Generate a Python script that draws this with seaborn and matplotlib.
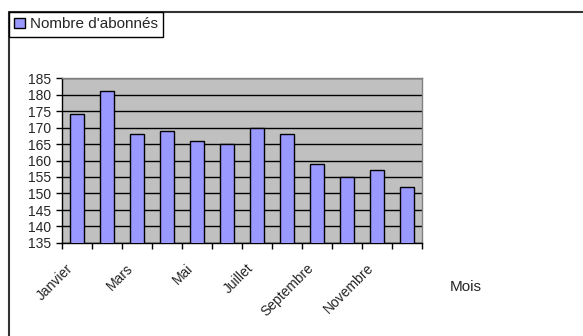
import matplotlib
matplotlib.use("Agg")
import matplotlib.pyplot as plt
import seaborn as sns
import pandas as pd
import numpy as np
from matplotlib.lines import Line2D
from matplotlib.patches import Patch

mois = ["Janvier", "Février", "Mars", "Avril", "Mai", "Juin", "Juillet",
        "Août", "Septembre", "Octobre", "Novembre", "Décembre"]
abonnes = [174, 181, 168, 169, 166, 165, 170, 168, 159, 155, 157, 152]
y_ticks = list(range(135, 186, 5))

sns.set_theme(style="white")
plt.rcParams['font.family'] = ['Liberation Sans', 'DejaVu Sans']

W, H = 583, 336
fig = plt.figure(figsize=(W / 100, H / 100), dpi=100)
ax = fig.add_axes([62 / W, 1 - 243 / H, 360 / W, 165 / H])

df = pd.DataFrame({"Mois": mois, "Abonnés": abonnes})
sns.barplot(data=df, x="Mois", y="Abonnés", color="#9999FF", saturation=1,
            width=0.45, edgecolor="black", linewidth=1, ax=ax, zorder=3)

ax.set_facecolor("#C0C0C0")
ax.set_ylim(135, 185)
ax.set_xlim(-0.5, 11.5)
ax.set_yticks(y_ticks)
ax.set_yticklabels([str(v) for v in y_ticks], fontsize=10)
ax.yaxis.grid(True, color="black", linewidth=1)
ax.set_axisbelow(True)
ax.set_xlabel("")
ax.set_ylabel("")

# ticks on category boundaries, slanted labels on every other category
ax.set_xticks(np.arange(-0.5, 12, 1))
ax.set_xticklabels([])
label_pos = np.arange(0, 12, 2) - 0.36
ax.set_xticks(label_pos, minor=True)
ax.set_xticklabels(mois[::2], minor=True, rotation=45, ha="right",
                   rotation_mode="anchor", fontsize=10)
ax.tick_params(axis="x", which="major", direction="out", length=4,
               width=1, color="black", bottom=True)
ax.tick_params(axis="x", which="minor", length=0, pad=13, bottom=True)
ax.tick_params(axis="y", direction="out", length=4, width=1,
               color="black", left=True, pad=4)

for s in ("left", "bottom"):
    ax.spines[s].set_color("black")
    ax.spines[s].set_linewidth(1)
for s in ("top", "right"):
    ax.spines[s].set_color("#808080")
    ax.spines[s].set_linewidth(1)

leg = fig.legend(handles=[Patch(facecolor="#9999FF", edgecolor="black",
                                label="Nombre d'abonnés")],
                 loc="upper left", bbox_to_anchor=(9 / W, 1 - 12 / H),
                 borderaxespad=0, frameon=True, fancybox=False,
                 edgecolor="black", framealpha=1, fontsize=11,
                 handlelength=0.7, handleheight=0.7, handletextpad=0.3,
                 borderpad=0.35)
leg.get_frame().set_linewidth(1)

# outer chart frame (top and left edges)
fig.add_artist(Line2D([9 / W, 1], [1 - 12 / H, 1 - 12 / H],
                      transform=fig.transFigure, color="#333333", lw=1.5))
fig.add_artist(Line2D([9 / W, 9 / W], [0, 1 - 12 / H],
                      transform=fig.transFigure, color="#333333", lw=1.5))

fig.text(450 / W, 1 - 287 / H, "Mois", fontsize=11, va="center", ha="left")

fig.savefig("out.png", dpi=100)
